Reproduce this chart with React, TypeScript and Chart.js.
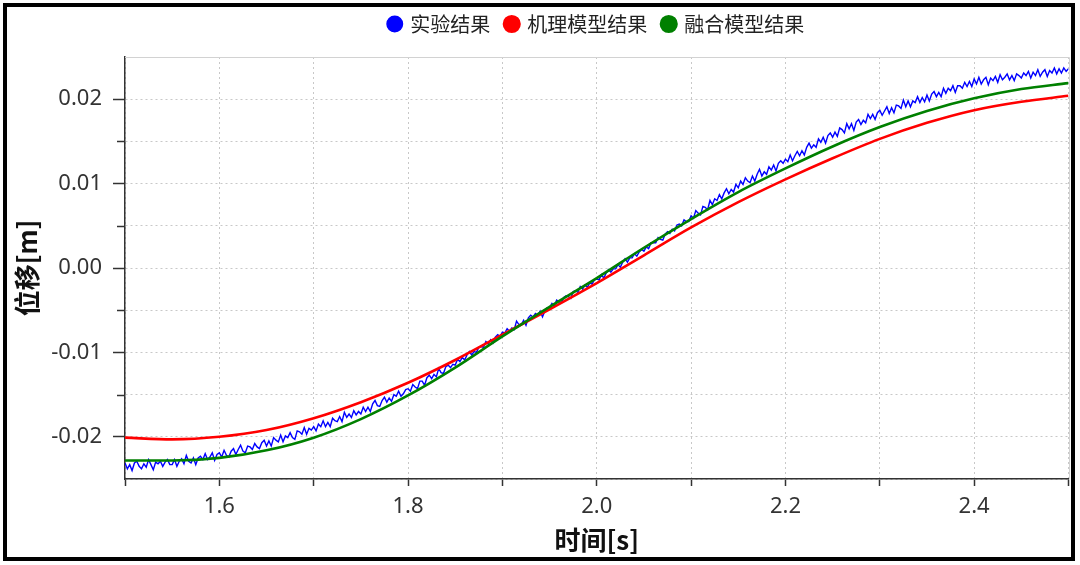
import { useEffect, useRef } from "react";
import Chart from "chart.js/auto";

const seriesLabels = ["实验结果", "机理模型结果", "融合模型结果"];
const xTitle = "时间[s]";
const yTitle = "位移[m]";

// model curves sampled every 0.05 s
const modelTimes = [
  1.5, 1.55, 1.6, 1.65, 1.7, 1.75, 1.8, 1.85, 1.9, 1.95, 2.0,
  2.05, 2.1, 2.15, 2.2, 2.25, 2.3, 2.35, 2.4, 2.45, 2.5,
];
const mechanismValues = [
  -0.0201, -0.0203, -0.02, -0.0192, -0.0178, -0.0159, -0.0136, -0.0109, -0.0079, -0.0049, -0.0018,
  0.0015, 0.0048, 0.0078, 0.0105, 0.013, 0.0153, 0.0172, 0.0187, 0.0197, 0.0204,
];
const fusionValues = [
  -0.0228, -0.0228, -0.0225, -0.0216, -0.0201, -0.0179, -0.0151, -0.0118, -0.0081, -0.0046, -0.0012,
  0.0024, 0.0058, 0.009, 0.0118, 0.0144, 0.0167, 0.0186, 0.0201, 0.0212, 0.0219,
];

// experimental record: sampled every 0.0025 s from 1.5 s
const expStart = 1.5;
const expStep = 0.0025;
const experimentValues = [
  -0.0231,-0.0238,-0.0233,-0.0240,-0.0231,-0.0229,-0.0235,-0.0238,-0.0232,-0.0236,-0.0227,-0.0233,-0.0239,-0.0230,-0.0232,-0.0229,-0.0235,-0.0230,-0.0227,-0.0233,
  -0.0233,-0.0227,-0.0235,-0.0229,-0.0226,-0.0232,-0.0222,-0.0229,-0.0231,-0.0225,-0.0233,-0.0225,-0.0223,-0.0227,-0.0220,-0.0227,-0.0224,-0.0219,-0.0228,-0.0221,
  -0.0219,-0.0224,-0.0216,-0.0222,-0.0224,-0.0217,-0.0214,-0.0221,-0.0215,-0.0210,-0.0217,-0.0219,-0.0211,-0.0212,-0.0215,-0.0208,-0.0212,-0.0214,-0.0207,-0.0204,
  -0.0211,-0.0205,-0.0211,-0.0201,-0.0204,-0.0206,-0.0198,-0.0206,-0.0199,-0.0201,-0.0195,-0.0201,-0.0203,-0.0193,-0.0194,-0.0197,-0.0189,-0.0197,-0.0190,-0.0192,
  -0.0188,-0.0193,-0.0185,-0.0188,-0.0181,-0.0188,-0.0183,-0.0188,-0.0178,-0.0181,-0.0182,-0.0176,-0.0182,-0.0171,-0.0177,-0.0173,-0.0177,-0.0169,-0.0174,-0.0170,
  -0.0173,-0.0165,-0.0170,-0.0165,-0.0170,-0.0161,-0.0157,-0.0163,-0.0164,-0.0157,-0.0153,-0.0159,-0.0154,-0.0158,-0.0150,-0.0152,-0.0146,-0.0152,-0.0149,-0.0144,
  -0.0143,-0.0146,-0.0138,-0.0141,-0.0143,-0.0134,-0.0134,-0.0139,-0.0130,-0.0127,-0.0131,-0.0126,-0.0129,-0.0119,-0.0124,-0.0125,-0.0117,-0.0115,-0.0118,-0.0114,
  -0.0115,-0.0108,-0.0111,-0.0106,-0.0109,-0.0103,-0.0099,-0.0103,-0.0099,-0.0100,-0.0094,-0.0093,-0.0094,-0.0087,-0.0090,-0.0085,-0.0089,-0.0082,-0.0079,-0.0081,
  -0.0076,-0.0077,-0.0072,-0.0075,-0.0071,-0.0073,-0.0063,-0.0067,-0.0067,-0.0062,-0.0068,-0.0059,-0.0056,-0.0058,-0.0054,-0.0056,-0.0051,-0.0058,-0.0051,-0.0047,
  -0.0047,-0.0042,-0.0045,-0.0038,-0.0040,-0.0041,-0.0035,-0.0033,-0.0034,-0.0036,-0.0028,-0.0027,-0.0029,-0.0022,-0.0025,-0.0020,-0.0023,-0.0018,-0.0019,-0.0014,
  -0.0013,-0.0014,-0.0008,-0.0012,-0.0006,-0.0002,-0.0005,-0.0001,-0.0001,0.0004,0.0001,0.0007,0.0011,0.0007,0.0012,0.0012,0.0017,0.0014,0.0019,0.0022,
  0.0020,0.0025,0.0023,0.0030,0.0030,0.0030,0.0036,0.0034,0.0033,0.0040,0.0043,0.0041,0.0046,0.0044,0.0051,0.0052,0.0050,0.0057,0.0055,0.0055,
  0.0062,0.0059,0.0068,0.0065,0.0063,0.0073,0.0072,0.0069,0.0080,0.0075,0.0082,0.0080,0.0087,0.0082,0.0089,0.0094,0.0088,0.0093,0.0090,0.0099,
  0.0095,0.0103,0.0099,0.0107,0.0103,0.0101,0.0109,0.0103,0.0111,0.0117,0.0109,0.0114,0.0111,0.0120,0.0116,0.0122,0.0115,0.0124,0.0127,0.0124,
  0.0129,0.0126,0.0134,0.0127,0.0133,0.0138,0.0133,0.0139,0.0134,0.0143,0.0148,0.0142,0.0146,0.0143,0.0153,0.0149,0.0155,0.0148,0.0157,0.0160,
  0.0155,0.0161,0.0156,0.0166,0.0164,0.0160,0.0171,0.0165,0.0171,0.0163,0.0173,0.0176,0.0170,0.0175,0.0172,0.0182,0.0177,0.0182,0.0176,0.0184,
  0.0187,0.0181,0.0186,0.0191,0.0183,0.0190,0.0184,0.0193,0.0192,0.0189,0.0199,0.0191,0.0198,0.0191,0.0198,0.0196,0.0203,0.0196,0.0202,0.0197,
  0.0205,0.0198,0.0206,0.0209,0.0203,0.0208,0.0203,0.0213,0.0207,0.0213,0.0210,0.0216,0.0208,0.0216,0.0216,0.0213,0.0220,0.0215,0.0221,0.0215,
  0.0224,0.0218,0.0226,0.0218,0.0223,0.0226,0.0217,0.0225,0.0222,0.0227,0.0220,0.0229,0.0223,0.0226,0.0230,0.0223,0.0228,0.0222,0.0230,0.0228,
  0.0225,0.0231,0.0228,0.0233,0.0225,0.0232,0.0228,0.0235,0.0227,0.0232,0.0235,0.0227,0.0234,0.0231,0.0237,0.0230,0.0236,0.0231,0.0237,0.0233,
  0.0236,
];

const xMin = 1.5;
const xMax = 2.5;
const xStep = 0.1;
const yMin = -0.025;
const yMax = 0.025;
const yStep = 0.005;

const isMajorY = (v: number) => Math.abs(Math.round(v * 200)) % 2 === 0;
const isMajorX = (v: number) => Math.round(v * 10) % 2 === 0;

const tickFont = { size: 22, family: '"Noto Sans", "DejaVu Sans", sans-serif' };
const cjkFamily = '"Noto Sans CJK SC", "Noto Sans", sans-serif';

// extra space below the legend so the plot starts lower
const legendSpacer = {
  id: "legendSpacer",
  afterInit(chart: any) {
    const lg = chart.legend;
    if (!lg || lg.__spaced) return;
    const orig = lg.fit;
    lg.fit = function () {
      orig.call(this);
      this.height += 13;
    };
    lg.__spaced = true;
  },
};

const decorPlugin = {
  id: "decor",
  afterDraw(chart: any) {
    const { ctx, chartArea: a, scales } = chart;
    ctx.save();
    ctx.strokeStyle = "#d2d2d2";
    ctx.lineWidth = 1;
    ctx.beginPath();
    ctx.moveTo(a.left, Math.round(a.top) + 0.5);
    ctx.lineTo(Math.round(a.right) + 0.5, Math.round(a.top) + 0.5);
    ctx.lineTo(Math.round(a.right) + 0.5, a.bottom);
    ctx.stroke();
    const y = scales.y;
    ctx.strokeStyle = "#333";
    ctx.lineWidth = 1.5;
    y.ticks.forEach((t: any) => {
      if (isMajorY(t.value)) return;
      if (Math.abs(Math.abs(t.value) - yMax) < 1e-9) return;
      const py = Math.round(y.getPixelForValue(t.value)) + 0.5;
      ctx.beginPath();
      ctx.moveTo(a.left - 8, py);
      ctx.lineTo(a.left, py);
      ctx.stroke();
    });
    ctx.restore();
  },
};

export default function App() {
  const ref = useRef<HTMLCanvasElement>(null);
  useEffect(() => {
    const expPoints = experimentValues.map((v, i) => ({ x: expStart + i * expStep, y: v }));
    const mechPoints = modelTimes.map((t, i) => ({ x: t, y: mechanismValues[i] }));
    const fusionPoints = modelTimes.map((t, i) => ({ x: t, y: fusionValues[i] }));
    const chart = new Chart(ref.current as HTMLCanvasElement, {
      type: "line",
      data: {
        datasets: [
          {
            label: seriesLabels[0],
            data: expPoints,
            borderColor: "#0000ff",
            backgroundColor: "#0000ff",
            borderWidth: 1.4,
            pointRadius: 0,
            tension: 0,
            order: 3,
          },
          {
            label: seriesLabels[1],
            data: mechPoints,
            borderColor: "#ff0000",
            backgroundColor: "#ff0000",
            borderWidth: 2.6,
            pointRadius: 0,
            cubicInterpolationMode: "monotone",
            order: 2,
          },
          {
            label: seriesLabels[2],
            data: fusionPoints,
            borderColor: "#008000",
            backgroundColor: "#008000",
            borderWidth: 2.6,
            pointRadius: 0,
            cubicInterpolationMode: "monotone",
            order: 1,
          },
        ],
      },
      options: {
        responsive: false,
        animation: false,
        devicePixelRatio: 1,
        layout: { padding: { top: -2, right: 11.5, bottom: 0, left: 0 } },
        plugins: {
          legend: {
            position: "top",
            fullSize: false,
            reverse: true,
            labels: {
              usePointStyle: true,
              pointStyle: "circle",
              boxWidth: 11,
              boxHeight: 11,
              padding: 16,
              color: "#222",
              font: { size: 20, family: cjkFamily },
            },
          },
          tooltip: { enabled: false },
        },
        scales: {
          x: {
            type: "linear",
            min: xMin,
            max: xMax,
            afterFit: (s: any) => {
              s.height = 86;
            },
            ticks: {
              stepSize: xStep,
              autoSkip: false,
              maxRotation: 0,
              padding: 8,
              color: "#333",
              font: tickFont,
              callback: (v: any) => (isMajorX(Number(v)) ? Number(v).toFixed(1) : ""),
            },
            grid: {
              color: "#c8c8c8",
              lineWidth: 1,
              tickLength: 7,
              tickColor: "#333",
              tickWidth: 1.5,
              tickBorderDash: [],
            },
            border: { display: true, color: "#333", width: 1.5, dash: [2, 3] },
            title: {
              display: true,
              text: xTitle,
              color: "#111",
              font: { size: 26, weight: "bold", family: cjkFamily },
              padding: { top: 0, bottom: 9 },
            },
          },
          y: {
            min: yMin,
            max: yMax,
            afterFit: (s: any) => {
              s.width = 125;
            },
            ticks: {
              stepSize: yStep,
              autoSkip: false,
              padding: 11,
              color: "#333",
              font: tickFont,
              callback: (v: any) => (isMajorY(Number(v)) ? Number(v).toFixed(2) : ""),
            },
            grid: {
              color: "#c8c8c8",
              lineWidth: 1,
              tickLength: 12,
              tickColor: (c: any) => (c.tick && isMajorY(c.tick.value) ? "#333" : "rgba(0,0,0,0)"),
              tickWidth: 1.5,
              tickBorderDash: [],
            },
            border: { display: true, color: "#333", width: 1.5, dash: [2, 3] },
            title: {
              display: true,
              text: yTitle,
              color: "#111",
              font: { size: 26, weight: "bold", family: cjkFamily },
              padding: { top: 12, bottom: 0 },
            },
          },
        },
      },
      plugins: [legendSpacer, decorPlugin],
    } as any);
    return () => chart.destroy();
  }, []);
  return (
    <div style={{ position: "fixed", left: 0, top: 0, width: 1080, height: 565, background: "#fff" }}>
      <canvas ref={ref} width={1080} height={565} style={{ display: "block", width: 1080, height: 565 }} />
      <div
        style={{
          position: "absolute",
          left: 3,
          top: 3,
          width: 1072,
          height: 558,
          border: "4px solid #000",
          boxSizing: "border-box",
          pointerEvents: "none",
        }}
      />
    </div>
  );
}
